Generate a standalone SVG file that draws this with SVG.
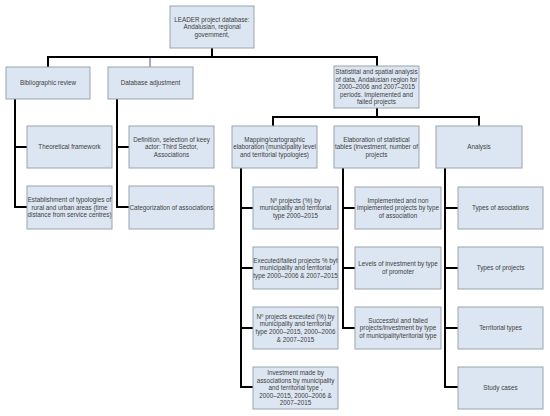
<svg xmlns="http://www.w3.org/2000/svg" width="550" height="416" viewBox="0 0 550 416">
<style>
.box{fill:#dce6f2;stroke:#9aa3ad;stroke-width:1}
.t{font-family:"Liberation Sans",Arial,sans-serif;font-size:6.3px;fill:#404040;text-anchor:middle}
.c{fill:none;stroke:#000;stroke-width:2;stroke-linejoin:miter}
.p{fill:none;stroke:#8064a2;stroke-width:1.2}
</style>
<rect width="550" height="416" fill="#fff"/>
<g id="connectors">
<path class="c" d="M212 48V57M48 67V57H377V66"/>
<path class="p" d="M150 58V67"/>
<path class="c" d="M377 108V117M273 126V117H479V126"/>
<path class="c" d="M90 99M15 99V207H27M15 147H27"/>
<path class="c" d="M117 99V207H129M117 147H129"/>
<path class="c" d="M241 168V387H253M241 208H253M241 268H253M241 328H253"/>
<path class="c" d="M343 168V328H355M343 208H355M343 268H355"/>
<path class="c" d="M445 168V387H458M445 208H458M445 268H458M445 328H458"/>
</g>
<g id="n_top"><rect class="box" x="170" y="6" width="84" height="42"/>
<text class="t"><tspan x="212" y="21.6">LEADER project database:</tspan><tspan x="212" y="29.2">Andalusian, regional</tspan><tspan x="212" y="36.8">government,</tspan></text></g>
<g id="n_biblio"><rect class="box" x="6" y="67" width="84" height="32"/>
<text class="t" x="48" y="85.2">Bibliographic review</text></g>
<g id="n_dbadj"><rect class="box" x="108" y="67" width="85" height="32"/>
<text class="t" x="150.5" y="85.2">Database adjustment</text></g>
<g id="n_stat"><rect class="box" x="334" y="66" width="85" height="42"/>
<text class="t"><tspan x="376.5" y="74">Statistital and spatial analysis</tspan><tspan x="376.5" y="81.6">of data, Andalusian region for</tspan><tspan x="376.5" y="89.2">2000–2006 and 2007–2015</tspan><tspan x="376.5" y="96.8">periods. Implemented and</tspan><tspan x="376.5" y="104.4">failed projects</tspan></text></g>
<g id="n_theo"><rect class="box" x="27" y="126" width="85" height="42"/>
<text class="t" x="69.5" y="149.2">Theoretical framework</text></g>
<g id="n_estab"><rect class="box" x="27" y="186" width="85" height="43"/>
<text class="t"><tspan x="69.5" y="202.1">Establishment of typologies of</tspan><tspan x="69.5" y="209.7">rural and urban areas (time</tspan><tspan x="69.5" y="217.3">distance from service centres)</tspan></text></g>
<g id="n_def"><rect class="box" x="129" y="126" width="85" height="42"/>
<text class="t"><tspan x="171.5" y="141.6">Definition, selection of keey</tspan><tspan x="171.5" y="149.2">actor: Third Sector,</tspan><tspan x="171.5" y="156.8">Associations</tspan></text></g>
<g id="n_categ"><rect class="box" x="129" y="186" width="85" height="43"/>
<text class="t" x="171.5" y="209.7">Categorization of associations</text></g>
<g id="n_map"><rect class="box" x="232" y="126" width="85" height="42"/>
<text class="t"><tspan x="274.5" y="141.6">Mapping/cartographic</tspan><tspan x="274.5" y="149.2">elaboration (municipality level</tspan><tspan x="274.5" y="156.8">and territorial typologies)</tspan></text></g>
<g id="n_elab"><rect class="box" x="334" y="126" width="85" height="42"/>
<text class="t"><tspan x="376.5" y="141.6">Elaboration of statistical</tspan><tspan x="376.5" y="149.2">tables (investment, number of</tspan><tspan x="376.5" y="156.8">projects</tspan></text></g>
<g id="n_analysis"><rect class="box" x="436" y="126" width="86" height="42"/>
<text class="t" x="479" y="149.2">Analysis</text></g>
<g id="n_m1"><rect class="box" x="253" y="187" width="85" height="42"/>
<text class="t"><tspan x="295.5" y="202.6">Nº projects (%) by</tspan><tspan x="295.5" y="210.2">municipality and territorial</tspan><tspan x="295.5" y="217.8">type 2000–2015</tspan></text></g>
<g id="n_m2"><rect class="box" x="253" y="247" width="85" height="42"/>
<text class="t"><tspan x="295.5" y="262.6">Executed/failed projects % byt</tspan><tspan x="295.5" y="270.2">municipality and territorial</tspan><tspan x="295.5" y="277.8">type 2000–2006 &amp; 2007–2015</tspan></text></g>
<g id="n_m3"><rect class="box" x="253" y="307" width="85" height="42"/>
<text class="t"><tspan x="295.5" y="318.8">Nº projects exceuted (%) by</tspan><tspan x="295.5" y="326.4">municipality and territorial</tspan><tspan x="295.5" y="334">type 2000–2015, 2000–2006</tspan><tspan x="295.5" y="341.6">&amp; 2007–2015</tspan></text></g>
<g id="n_m4"><rect class="box" x="253" y="367" width="85" height="42"/>
<text class="t"><tspan x="295.5" y="375">Investment made by</tspan><tspan x="295.5" y="382.6">associations by municipality</tspan><tspan x="295.5" y="390.2">and territorial type ,</tspan><tspan x="295.5" y="397.8">2000–2015, 2000–2006 &amp;</tspan><tspan x="295.5" y="405.4">2007–2015</tspan></text></g>
<g id="n_e1"><rect class="box" x="355" y="187" width="86" height="42"/>
<text class="t"><tspan x="398" y="202.6">Implemented and non</tspan><tspan x="398" y="210.2">implemented projects by type</tspan><tspan x="398" y="217.8">of association</tspan></text></g>
<g id="n_e2"><rect class="box" x="355" y="247" width="86" height="42"/>
<text class="t"><tspan x="398" y="266.4">Levels of investment  by type</tspan><tspan x="398" y="274">of promoter</tspan></text></g>
<g id="n_e3"><rect class="box" x="355" y="307" width="86" height="42"/>
<text class="t"><tspan x="398" y="322.6">Successful and failed</tspan><tspan x="398" y="330.2">projects/investment by type</tspan><tspan x="398" y="337.8">of municipality/teritorial type</tspan></text></g>
<g id="n_a1"><rect class="box" x="458" y="187" width="85" height="42"/>
<text class="t" x="500.5" y="210.2">Types of asociations</text></g>
<g id="n_a2"><rect class="box" x="458" y="247" width="85" height="42"/>
<text class="t" x="500.5" y="270.2">Types of projects</text></g>
<g id="n_a3"><rect class="box" x="458" y="307" width="85" height="42"/>
<text class="t" x="500.5" y="330.2">Territorial types</text></g>
<g id="n_a4"><rect class="box" x="458" y="367" width="85" height="42"/>
<text class="t" x="500.5" y="390.2">Study cases</text></g>
</svg>
